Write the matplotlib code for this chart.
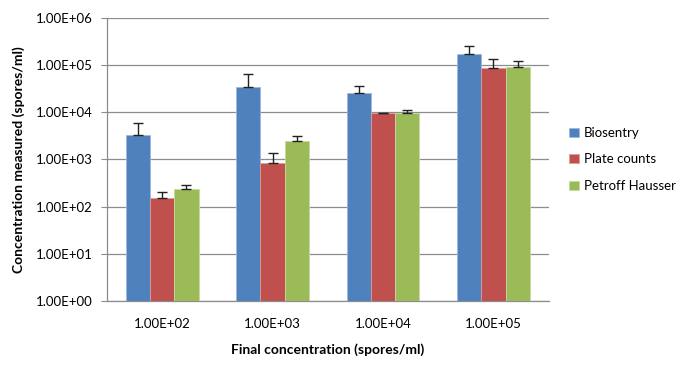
import numpy as np
import matplotlib.pyplot as plt

plt.rcParams["font.family"] = ["Lato", "DejaVu Sans"]

categories = ["1.00E+02", "1.00E+03", "1.00E+04", "1.00E+05"]
series_names = ["Biosentry", "Plate counts", "Petroff Hausser"]

biosentry = [3240, 35000, 25700, 170000]
plate_counts = [150, 843, 9530, 87000]
petroff = [240, 2470, 9680, 90000]

# upper error bar amounts
biosentry_err = [2660, 29000, 11100, 81000]
plate_err = [55, 557, 310, 48000]
petroff_err = [43, 630, 1320, 30000]

colors = ["#4F81BD", "#C0504D", "#9BBB59"]
edges = ["#9DB9DE", "#DE9A98", "#C6DA9E"]

fig = plt.figure(figsize=(6.87, 3.73), dpi=100)
ax = fig.add_axes([0.1557, 0.193, 0.643, 0.759])

x = np.arange(len(categories))
w = 0.22
values = [biosentry, plate_counts, petroff]
errs = [biosentry_err, plate_err, petroff_err]

for i, (vals, err) in enumerate(zip(values, errs)):
    pos = x + (i - 1) * w
    ax.bar(pos, vals, width=w, color=colors[i], edgecolor=edges[i],
           linewidth=0.6, label=series_names[i], zorder=3)
    ax.errorbar(pos + 0.0, vals, yerr=[np.zeros(len(vals)), err], fmt="none",
                ecolor="#222222", elinewidth=1.0, capsize=3.5, capthick=1.0,
                zorder=4)

ax.set_yscale("log")
ax.set_ylim(1, 1e6)
ax.set_xlim(-0.5, 3.5)
ticks = [10.0 ** k for k in range(7)]
ax.set_yticks(ticks)
ax.set_yticklabels([f"1.00E+{k:02d}" for k in range(7)])
ax.yaxis.set_minor_locator(plt.NullLocator())
ax.set_xticks(x)
ax.set_xticklabels(categories)

ax.grid(axis="y", color="#8C8C8C", linewidth=0.9, zorder=0)
for s in ["top", "right"]:
    ax.spines[s].set_visible(False)
for s in ["left", "bottom"]:
    ax.spines[s].set_color("#8C8C8C")
    ax.spines[s].set_linewidth(0.9)
ax.tick_params(axis="y", length=4, color="#8C8C8C", labelsize=9.5, pad=6)
ax.tick_params(axis="x", length=0, labelsize=9.5, pad=12)

ax.set_ylabel("Concentration measured (spores/ml)", fontsize=10,
              fontweight="bold", labelpad=8)
ax.set_xlabel("Final concentration (spores/ml)", fontsize=10,
              fontweight="bold", labelpad=10)

ax.legend(loc="center left", bbox_to_anchor=(1.02, 0.5), frameon=False,
          fontsize=9.5, handlelength=0.7, handleheight=0.7,
          handletextpad=0.4, labelspacing=1.1)

fig.savefig("out.png", dpi=100)
